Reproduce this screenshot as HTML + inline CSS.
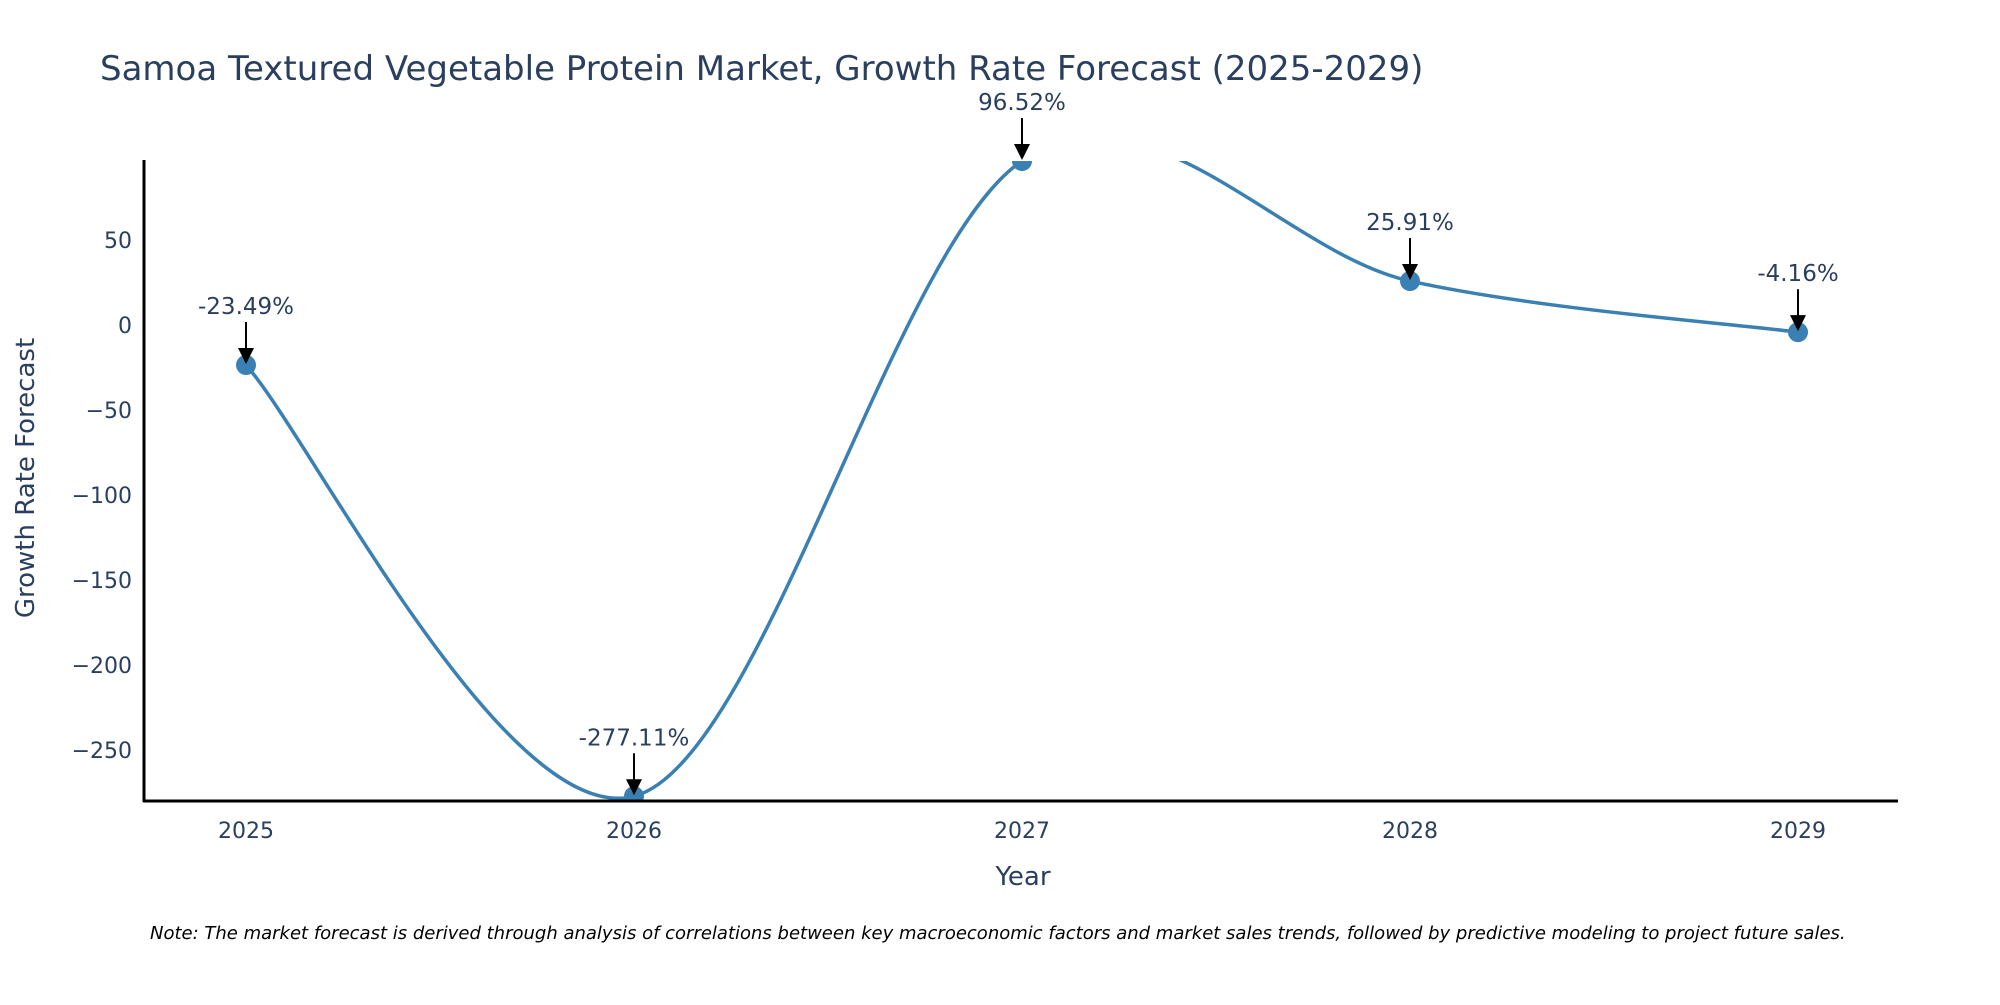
<!DOCTYPE html>
<html><head><meta charset="utf-8"><style>
html,body{margin:0;padding:0;background:#fff;overflow:hidden;}
svg text{font-family:"DejaVu Sans","Liberation Sans",sans-serif;}
</style></head><body>
<svg id="chart" width="2000" height="1000" xmlns="http://www.w3.org/2000/svg">
<defs>
<clipPath id="plotclip"><rect x="144" y="161" width="1754" height="640"/></clipPath>
</defs>
<text x="100" y="80" font-size="34" fill="#2a3f5f">Samoa Textured Vegetable Protein Market, Growth Rate Forecast (2025-2029)</text>
<g id="yticks"></g>
<g id="xticks"></g>
<g id="series" clip-path="url(#plotclip)"></g>
<g id="annots"></g>
<line x1="144" y1="160" x2="144" y2="802" stroke="#000" stroke-width="3"/>
<line x1="143" y1="801" x2="1898" y2="801" stroke="#000" stroke-width="3"/>
<text transform="translate(34,478) rotate(-90)" text-anchor="middle" font-size="26" fill="#2a3f5f">Growth Rate Forecast</text>
<text x="1023" y="885" text-anchor="middle" font-size="26" fill="#2a3f5f">Year</text>
<text x="150" y="939" font-size="18" font-style="italic" fill="#000">Note: The market forecast is derived through analysis of correlations between key macroeconomic factors and market sales trends, followed by predictive modeling to project future sales.</text>
</svg>
<script>
const years = [2025, 2026, 2027, 2028, 2029];
const growth = [-23.49, -277.11, 96.52, 25.91, -4.16];
const labels = ["-23.49%", "-277.11%", "96.52%", "25.91%", "-4.16%"];
const yTicks = [50, 0, -50, -100, -150, -200, -250];

const NS = "http://www.w3.org/2000/svg";
const X0 = 246, XSTEP = 388;
const yMin = -279.9, yMax = 96.52, PT = 161, PB = 801;
function xs(v){ return X0 + (v - years[0]) * XSTEP; }
function ys(v){ return PB - (v - yMin) / (yMax - yMin) * (PB - PT); }
function mk(tag, attrs, parent){ const e=document.createElementNS(NS,tag); for(const k in attrs) e.setAttribute(k,attrs[k]); parent.appendChild(e); return e; }

const yg = document.getElementById('yticks');
yTicks.forEach(t=>{
  const e = mk('text',{x:132,y:ys(t)+8,'text-anchor':'end','font-size':22,fill:'#2a3f5f'},yg);
  
  
  e.textContent = t < 0 ? '\u2212' + Math.abs(t) : String(t);
});
const xg = document.getElementById('xticks');
years.forEach(yr=>{
  const e = mk('text',{x:xs(yr),y:838,'text-anchor':'middle','font-size':22,fill:'#2a3f5f'},xg);
  
  
  e.textContent = yr;
});

const pts = years.map((yr,i)=>[xs(yr), ys(growth[i])]);
let d = 'M' + pts[0][0] + ',' + pts[0][1];
const s = 0.33;
for(let i=0;i<pts.length-1;i++){
  const p0 = pts[Math.max(0,i-1)], p1 = pts[i], p2 = pts[i+1], p3 = pts[Math.min(pts.length-1,i+2)];
  const c1 = [p1[0] + (p2[0]-p0[0])*s/2, p1[1] + (p2[1]-p0[1])*s/2];
  const c2 = [p2[0] - (p3[0]-p1[0])*s/2, p2[1] - (p3[1]-p1[1])*s/2];
  d += ' C' + c1[0] + ',' + c1[1] + ' ' + c2[0] + ',' + c2[1] + ' ' + p2[0] + ',' + p2[1];
}
const sg = document.getElementById('series');
const line = mk('path',{d:d,fill:'none',stroke:'#3a80b2','stroke-width':3.5},sg);


pts.forEach(p=>{
  const c = mk('circle',{cx:p[0],cy:p[1],r:10,fill:'#3a80b2'},sg);
  
  
});

const ag = document.getElementById('annots');
pts.forEach((p,i)=>{
  const l = mk('line',{x1:p[0],y1:p[1]-43,x2:p[0],y2:p[1]-14,stroke:'#000','stroke-width':2},ag);
  
  
  const h = mk('polygon',{points:(p[0]-8)+','+(p[1]-17)+' '+(p[0]+8)+','+(p[1]-17)+' '+p[0]+','+(p[1]-1),fill:'#000'},ag);
  
  
  const t = mk('text',{x:p[0],y:p[1]-51,'text-anchor':'middle','font-size':23,fill:'#2a3f5f'},ag);
  
  
  t.textContent = labels[i];
});
</script>
</body></html>
